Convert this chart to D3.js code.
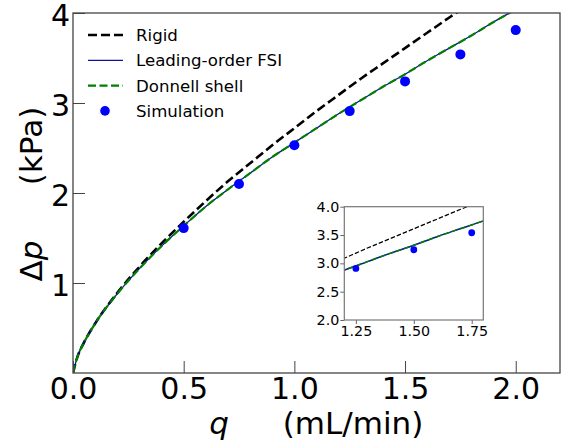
<!DOCTYPE html>
<html>
<head>
<meta charset="utf-8">
<script src="https://cdn.jsdelivr.net/npm/d3@7"></script>
<style>
  body { margin: 0; background: #fff; }
  svg { display: block; font-family: "DejaVu Sans", sans-serif; }
</style>
</head>
<body>
<div id="chart"></div>
<script>
// Flow rate grid (mL/min) used by the model curves
const qGrid = [0, 0.02, 0.05, 0.1, 0.2, 0.3, 0.4, 0.5, 0.6, 0.7, 0.8, 0.9, 1.0,
  1.1, 1.2, 1.3, 1.4, 1.5, 1.6, 1.7, 1.8, 1.9, 2.0, 2.1];
// Pressure drop (kPa) for each model
const rigidDp = [0, 0.18, 0.34, 0.55, 0.89, 1.18, 1.44, 1.68, 1.91, 2.13, 2.33, 2.53, 2.72,
  2.91, 3.09, 3.27, 3.44, 3.61, 3.78, 3.95, 4.11, 4.27, 4.43, 4.58];
const fsiDp = [0, 0.18, 0.34, 0.55, 0.88, 1.16, 1.41, 1.635, 1.85, 2.04, 2.22, 2.40, 2.56,
  2.72, 2.88, 3.03, 3.18, 3.32, 3.47, 3.61, 3.75, 3.90, 4.04, 4.18];
const donnellDp = [0, 0.18, 0.34, 0.55, 0.88, 1.16, 1.41, 1.635, 1.85, 2.04, 2.22, 2.40, 2.56,
  2.72, 2.88, 3.03, 3.18, 3.32, 3.47, 3.61, 3.75, 3.90, 4.04, 4.18];
// Simulation points
const simQ = [0.5, 0.75, 1.0, 1.25, 1.5, 1.75, 2.0];
const simDp = [1.61, 2.10, 2.53, 2.91, 3.24, 3.54, 3.81];
// Tick labels
const xTicks = [0, 0.5, 1.0, 1.5, 2.0];
const yTicks = [1, 2, 3, 4];
const insetXTicks = [1.25, 1.5, 1.75];
const insetYTicks = [2.0, 2.5, 3.0, 3.5, 4.0];

const width = 568;
const height = 447;
const margins = { top: 13, right: 8, bottom: 74, left: 73 };
const innerWidth = width - margins.left - margins.right;
const innerHeight = height - margins.top - margins.bottom;

const series = [
  { name: 'Rigid', values: rigidDp, color: '#000', lw: 2.6, dash: '9,4', ilw: 1.2, idash: '4.5,2' },
  { name: 'Leading-order FSI', values: fsiDp, color: '#1010a0', lw: 1.3, dash: null, ilw: 1.5, idash: null },
  { name: 'Donnell shell', values: donnellDp, color: '#008000', lw: 2.2, dash: '8,3.5', ilw: 1.5, idash: '6,2.5' },
];

const svg = d3.select('#chart')
  .append('svg')
  .attr('width', width)
  .attr('height', height);

// ---------- main axes ----------
const xScale = d3.scaleLinear().domain([0, 2.2]).range([0, innerWidth]);
const yScale = d3.scaleLinear().domain([0, 4]).range([innerHeight, 0]);

const g = svg.append('g')
  .attr('transform', `translate(${margins.left}, ${margins.top})`);

g.append('clipPath').attr('id', 'clipMain')
  .append('rect').attr('width', innerWidth).attr('height', innerHeight);

const line = d3.line()
  .x((d, i) => xScale(qGrid[i]))
  .y(d => yScale(d))
  .curve(d3.curveMonotoneX);

const curves = g.append('g').attr('clip-path', 'url(#clipMain)');
series.forEach(s => {
  curves.append('path')
    .attr('d', line(s.values))
    .attr('fill', 'none')
    .attr('stroke', s.color)
    .attr('stroke-width', s.lw)
    .attr('stroke-dasharray', s.dash);
});

g.selectAll('circle.sim')
  .data(simQ)
  .enter()
  .append('circle')
  .attr('class', 'sim')
  .attr('cx', d => xScale(d))
  .attr('cy', (d, i) => yScale(simDp[i]))
  .attr('r', 5)
  .attr('fill', '#0000ff');

// Axes: inward ticks, frame drawn separately
const xAxis = d3.axisBottom(xScale)
  .tickValues(xTicks)
  .tickFormat(d3.format('.1f'))
  .tickSize(-12)
  .tickPadding(5);

const yAxis = d3.axisLeft(yScale)
  .tickValues(yTicks)
  .tickFormat(d3.format('d'))
  .tickSize(-12)
  .tickPadding(3);

const gx = g.append('g')
  .attr('transform', `translate(0,${innerHeight})`)
  .call(xAxis);
const gy = g.append('g').call(yAxis);

[gx, gy].forEach(a => {
  a.select('.domain').remove();
  a.selectAll('line').attr('stroke', '#444').attr('stroke-width', 1);
  a.selectAll('text')
    .attr('fill', '#000')
    .style('font-size', '30px')
    .style('font-family', '"DejaVu Sans", sans-serif');
});
gy.selectAll('text').attr('dy', '0.4em');

g.append('rect')
  .attr('width', innerWidth)
  .attr('height', innerHeight)
  .attr('fill', 'none')
  .attr('stroke', '#444')
  .attr('stroke-width', 1.3);

// Axis labels
svg.append('text')
  .attr('x', 219).attr('y', 434)
  .attr('text-anchor', 'middle')
  .style('font-size', '31px')
  .style('font-style', 'italic')
  .text('q');
svg.append('text')
  .attr('x', 353).attr('y', 434)
  .attr('text-anchor', 'middle')
  .style('font-size', '31px')
  .text('(mL/min)');

svg.append('text')
  .attr('transform', 'translate(42,261) rotate(-90)')
  .attr('text-anchor', 'middle')
  .style('font-size', '31px')
  .html('Δ<tspan font-style="italic">p</tspan>');
svg.append('text')
  .attr('transform', 'translate(42,146) rotate(-90)')
  .attr('text-anchor', 'middle')
  .style('font-size', '31px')
  .text('(kPa)');

// Legend
const legend = svg.append('g').attr('transform', 'translate(88,35)');
const rowH = 25.3;
series.forEach((s, i) => {
  legend.append('line')
    .attr('x1', 0).attr('x2', 35)
    .attr('y1', i * rowH).attr('y2', i * rowH)
    .attr('stroke', s.color)
    .attr('stroke-width', s.lw)
    .attr('stroke-dasharray', s.dash);
  legend.append('text')
    .attr('x', 48).attr('y', i * rowH + 6)
    .style('font-size', '16.6px')
    .text(s.name);
});
legend.append('circle')
  .attr('cx', 17).attr('cy', 3 * rowH)
  .attr('r', 4.8)
  .attr('fill', '#0000ff');
legend.append('text')
  .attr('x', 48).attr('y', 3 * rowH + 6)
  .style('font-size', '16.6px')
  .text('Simulation');

// ---------- inset ----------
const inset = { left: 344.3, top: 206.7, w: 139, h: 113.3 };
const ix = d3.scaleLinear().domain([1.2, 1.8]).range([0, inset.w]);
const iy = d3.scaleLinear().domain([2, 4]).range([inset.h, 0]);

const ig = svg.append('g')
  .attr('transform', `translate(${inset.left},${inset.top})`);

ig.append('rect')
  .attr('width', inset.w).attr('height', inset.h)
  .attr('fill', '#fff');

ig.append('clipPath').attr('id', 'clipInset')
  .append('rect').attr('width', inset.w).attr('height', inset.h);

const iline = d3.line()
  .x((d, i) => ix(qGrid[i]))
  .y(d => iy(d))
  .curve(d3.curveMonotoneX);

const icurves = ig.append('g').attr('clip-path', 'url(#clipInset)');
series.forEach(s => {
  icurves.append('path')
    .attr('d', iline(s.values))
    .attr('fill', 'none')
    .attr('stroke', s.color)
    .attr('stroke-width', s.ilw)
    .attr('stroke-dasharray', s.idash);
});

icurves.selectAll('circle')
  .data(simQ)
  .enter()
  .append('circle')
  .attr('cx', d => ix(d))
  .attr('cy', (d, i) => iy(simDp[i]))
  .attr('r', 3.4)
  .attr('fill', '#0000ff');

const igx = ig.append('g')
  .attr('transform', `translate(0,${inset.h})`)
  .call(d3.axisBottom(ix).tickValues(insetXTicks).tickFormat(d3.format('.2f')).tickSize(4).tickPadding(2));
const igy = ig.append('g')
  .call(d3.axisLeft(iy).tickValues(insetYTicks).tickFormat(d3.format('.1f')).tickSize(4).tickPadding(1));

[igx, igy].forEach(a => {
  a.select('.domain').remove();
  a.selectAll('line').attr('stroke', '#666');
  a.selectAll('text')
    .attr('fill', '#000')
    .style('font-size', '14.3px')
    .style('font-family', '"DejaVu Sans", sans-serif');
});

ig.append('rect')
  .attr('width', inset.w).attr('height', inset.h)
  .attr('fill', 'none')
  .attr('stroke', '#777')
  .attr('stroke-width', 1.2);
</script>
</body>
</html>
